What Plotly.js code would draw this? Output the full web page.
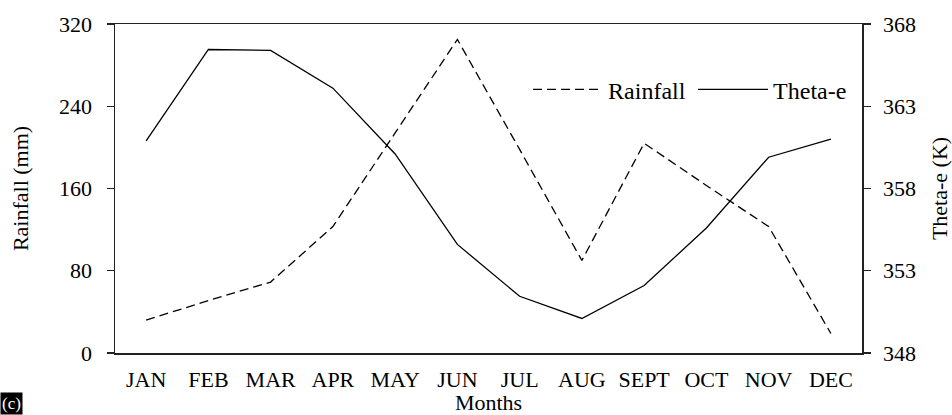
<!DOCTYPE html>
<html>
<head>
<meta charset="utf-8">
<script src="https://cdn.plot.ly/plotly-3.0.1.min.js"></script>
<style>
  html, body { margin: 0; padding: 0; background: #fff; }
  #chart { width: 952px; height: 415px; }
</style>
</head>
<body>
<div id="chart"></div>
<script>
// Monthly rainfall (mm) and equivalent potential temperature (K)
const months = ["JAN", "FEB", "MAR", "APR", "MAY", "JUN", "JUL", "AUG", "SEPT", "OCT", "NOV", "DEC"];
const rainfall = [32, 51, 69, 123, 214, 305, 198, 90, 204, 163, 123, 19];
const thetaE = [360.9, 366.45, 366.4, 364.1, 360.1, 354.6, 351.45, 350.1, 352.1, 355.6, 359.9, 361.0];
const rainTicks = [0, 80, 160, 240, 320];
const thetaTicks = [348, 353, 358, 363, 368];

const FONT = "Liberation Serif, Times New Roman, serif";
const FS = 22;
const AXIS_COLOR = "#222";

const traces = [
  {
    x: months, y: rainfall, name: "Rainfall", type: "scatter", mode: "lines",
    line: { color: "#000", width: 1.3, dash: "9px,5px" },
    yaxis: "y"
  },
  {
    x: months, y: thetaE, name: "Theta-e", type: "scatter", mode: "lines",
    line: { color: "#000", width: 1.3 },
    yaxis: "y2"
  }
];

const layout = {
  width: 952, height: 415,
  margin: { l: 115, r: 90, t: 24, b: 62 },
  paper_bgcolor: "#fff", plot_bgcolor: "#fff",
  font: { family: FONT, size: FS, color: "#000" },
  showlegend: true,
  legend: {
    orientation: "h", x: 0.553, y: 0.80, xanchor: "left", yanchor: "middle",
    itemwidth: 70, entrywidth: 80, entrywidthmode: "pixels",
    font: { family: FONT, size: 24 }, bgcolor: "rgba(0,0,0,0)",
    traceorder: "normal"
  },
  xaxis: {
    type: "category", categoryarray: months, range: [-0.5, 11.5],
    showline: true, linecolor: AXIS_COLOR, linewidth: 1.5, mirror: true,
    ticks: "", showgrid: false, zeroline: false,
    ticklabelstandoff: 6,
    tickfont: { family: FONT, size: FS },
    title: { text: "Months", font: { family: FONT, size: FS }, standoff: 0 }
  },
  yaxis: {
    range: [0, 320], tickvals: rainTicks, ticktext: rainTicks.map(String),
    showline: true, linecolor: AXIS_COLOR, linewidth: 1.5,
    ticks: "outside", ticklen: 7, tickcolor: AXIS_COLOR, tickwidth: 1.3,
    ticklabelstandoff: 10,
    showgrid: false, zeroline: false,
    tickfont: { family: FONT, size: FS },
    title: { text: "Rainfall (mm)", font: { family: FONT, size: FS }, standoff: 24 }
  },
  yaxis2: {
    overlaying: "y", side: "right",
    range: [348, 368], tickvals: thetaTicks, ticktext: thetaTicks.map(String),
    showline: true, linecolor: AXIS_COLOR, linewidth: 1.5,
    ticks: "outside", ticklen: 7, tickcolor: AXIS_COLOR, tickwidth: 1.3,
    ticklabelstandoff: 8,
    showgrid: false, zeroline: false,
    tickfont: { family: FONT, size: FS },
    title: { text: "Theta-e (K)", font: { family: FONT, size: FS }, standoff: 16 }
  },
  annotations: [
    {
      text: "(c)", xref: "paper", yref: "paper", x: -0.154, y: -0.12,
      xanchor: "left", yanchor: "top", showarrow: false,
      font: { family: FONT, size: 17, color: "#fff" },
      bgcolor: "#000", borderpad: 1
    }
  ]
};

Plotly.newPlot("chart", traces, layout, { displayModeBar: false, staticPlot: true });
</script>
</body>
</html>
